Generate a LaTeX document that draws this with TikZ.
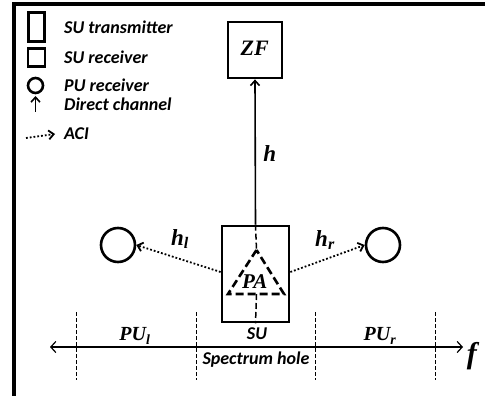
\documentclass[tikz,border=0pt]{standalone}
\usepackage{amsmath}
\usepackage{fontspec}
\setsansfont{Carlito}
\newfontfamily\symfont{Liberation Serif}
\newcommand{\sym}[2]{{\symfont\bfseries\itshape #1\textsubscript{#2}}}
\usepackage{tikz}
\usetikzlibrary{arrows.meta,positioning}

\begin{document}
\begin{tikzpicture}[x=1pt, y=-1pt,
  lab/.style={font=\sffamily\bfseries\itshape\fontsize{18}{20}\selectfont, anchor=west, inner sep=0pt},
  mlab/.style={font=\fontsize{23}{25}\selectfont, inner sep=0pt},
  blab/.style={font=\fontsize{20}{22}\selectfont, inner sep=0pt},
  txbox/.style={draw, line width=2.6pt, minimum width=16pt, minimum height=29pt, inner sep=0pt},
  rxbox/.style={draw, line width=2.6pt, minimum width=17pt, minimum height=18pt, inner sep=0pt},
  pu/.style={draw, circle, line width=2.6pt, minimum size=15pt, inner sep=0pt},
  direct/.style={-{Straight Barb[length=5pt,width=9pt]}, line width=1.6pt},
  aci/.style={-{Straight Barb[length=5pt,width=9pt]}, line width=1.8pt, dotted},
  band/.style={dash pattern=on 4pt off 2pt, line width=1pt},
  node distance=6pt
]
  \useasboundingbox (0,0) rectangle (485,396);
  % frame
  \draw[line width=3.5pt] (14,396) -- (14,4) -- (485,4);

  % legend
  \node[txbox] (ltx) at (36.5,27) {};
  \node[rxbox] (lrx) at (36.5,57.5) {};
  \node[pu] (lpu) at (35.5,85.5) {};
  \coordinate (ldb) at (35.5,112);
  \coordinate (ldt) at (35.5,96);
  \coordinate (lab) at (26,138);
  \coordinate (lae) at (55,134);
  \draw[direct] (ldb) -- (ldt);
  \draw[aci] (lab) -- (lae);
  \node[lab] (ttx) at (64,27) {SU transmitter};
  \node[lab] (trx) at (64,57) {SU receiver};
  \node[lab] (tpu) at (64,85) {PU receiver};
  \node[lab] (tdc) at (64,104) {Direct channel};
  \node[lab] (taci) at (64,134) {ACI};

  % receivers and transmitter
  \node[draw, line width=2.8pt, minimum width=54pt, minimum height=56pt, inner sep=0pt,
    font=\fontsize{22}{24}\selectfont] (zf) at (255,50) {\sym{ZF}{}};
  \node[draw, line width=2.8pt, minimum width=67pt, minimum height=96pt, inner sep=0pt] (su) at (255.5,274) {};
  \node[pu, minimum size=34pt] (pul) at (118,245) {};
  \node[pu, minimum size=34pt] (pur) at (383,245) {};

  % power amplifier
  \coordinate (apex) at (256.5,250);
  \coordinate (bl) at (228,294);
  \coordinate (br) at (284,294);
  \draw[dash pattern=on 8pt off 4pt, line width=2.6pt] (apex) -- (bl) -- (br) -- cycle;
  \draw[dash pattern=on 6pt off 3pt, line width=1.5pt] (su.north) -- (apex);
  \draw[dash pattern=on 6pt off 3pt, line width=1.5pt] (256.5,294) -- (su.south);
  \node[mlab, font=\fontsize{21}{23}\selectfont] (pa) at (255,283) {\sym{PA}{}};

  % channels
  \draw[direct] (su.north) -- (zf.south);
  \node[mlab] (h) at (270,155) {\sym{h}{}};
  \draw[aci] (su.west |- 0,272) -- (pul.east);
  \draw[aci] (su.east |- 0,272) -- (pur.west);
  \node[mlab] (hl) at (180,239) {\sym{h}{l}};
  \node[mlab] (hr) at (325,240) {\sym{h}{r}};

  % spectrum
  \coordinate (fl) at (50,347);
  \coordinate (fr) at (463,347);
  \draw[{Straight Barb[length=5pt,width=11pt]}-{Straight Barb[length=5pt,width=11pt]}, line width=1.2pt] (fl) -- (fr);
  \node[font=\fontsize{30}{32}\selectfont, inner sep=0pt] (f) at (472,356) {\sym{f}{}};
  \foreach \x in {76,196,315,435}
    \draw[band] (\x,312) -- (\x,380);
  \node[blab] (pl) at (135,336) {\sym{PU}{l}};
  \node[lab, anchor=center] (sul) at (257,334) {SU};
  \node[blab] (pr) at (380,336) {\sym{PU}{r}};
  \node[lab, anchor=center] (hole) at (256,360) {Spectrum hole};
\end{tikzpicture}
\end{document}
